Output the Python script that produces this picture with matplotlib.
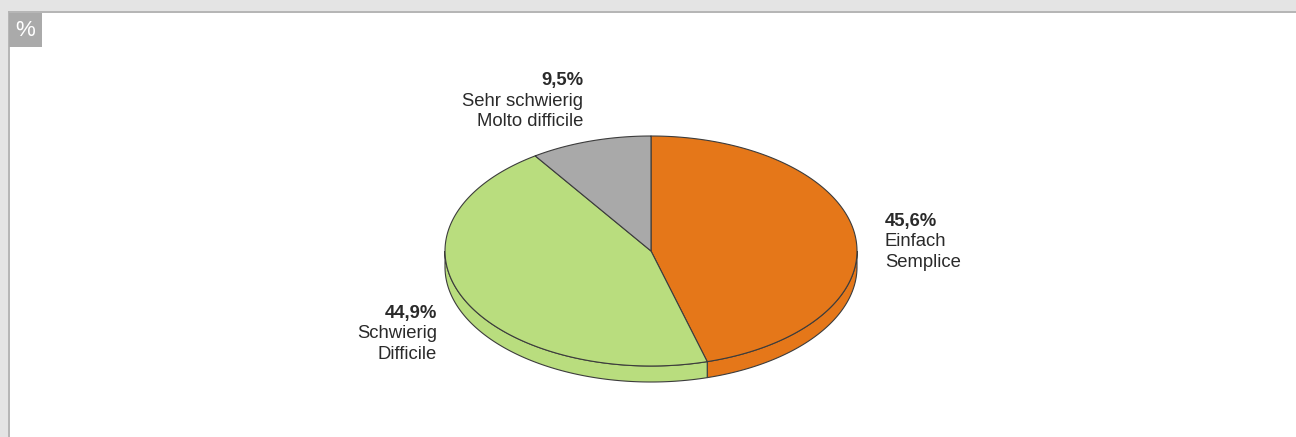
import numpy as np
import matplotlib
matplotlib.use("Agg")
import matplotlib.pyplot as plt
from matplotlib.patches import Polygon, Rectangle

# Werte
shares = [45.6, 44.9, 9.5]
labels_de = ["Einfach", "Schwierig", "Sehr schwierig"]
labels_it = ["Semplice", "Difficile", "Molto difficile"]
colors = ["#e57719", "#b9dd7e", "#a9a9a9"]

plt.rcParams["font.family"] = ["Liberation Sans", "DejaVu Sans"]

W, H = 1296, 437
fig = plt.figure(figsize=(W / 100, H / 100), dpi=100)
ax = fig.add_axes([0, 0, 1, 1])
ax.set_xlim(0, W)
ax.set_ylim(H, 0)
ax.axis("off")

# Rahmen
ax.add_patch(Rectangle((0, 0), W, 11, color="#e4e4e4", lw=0, zorder=0))
ax.add_patch(Rectangle((0, 0), 8, H, color="#e4e4e4", lw=0, zorder=0))
ax.plot([8.5, W], [11.5, 11.5], color="#b4b4b4", lw=1.4, zorder=0.5)
ax.plot([8.5, 8.5], [11.5, H], color="#b4b4b4", lw=1.4, zorder=0.5)
ax.add_patch(Rectangle((9, 12.5), 33, 34.5, color="#aaaaaa", lw=0, zorder=3))
ax.text(25.5, 30, "%", color="white", fontsize=16, ha="center", va="center", zorder=4)

# Ellipse (Pseudo-3D)
cx, cy, rx, ry, depth = 651, 251, 206, 115, 16
edge = "#3c3c3c"


def arc(t0, t1, n=200):
    t = np.radians(np.linspace(t0, t1, n))
    return np.column_stack([cx + rx * np.cos(t), cy - ry * np.sin(t)])


bounds = 90 - 360 * np.concatenate([[0], np.cumsum(shares)]) / 100.0

for i, col in enumerate(colors):
    a, b = bounds[i], bounds[i + 1]  # a > b, im Uhrzeigersinn
    # sichtbare Seitenwand (vorderer Teil der Ellipse)
    for lo, hi in [(-180, 0), (180, 360), (-540, -360)]:
        s0, s1 = max(b, lo), min(a, hi)
        if s1 > s0:
            top = arc(s1, s0)
            bot = top[::-1] + [0, depth]
            ax.add_patch(Polygon(np.vstack([top, bot]), closed=True, facecolor=col,
                                 edgecolor=edge, lw=0.8, zorder=1))
    pts = np.vstack([[cx, cy], arc(a, b)])
    ax.add_patch(Polygon(pts, closed=True, facecolor=col, edgecolor=edge,
                         lw=0.8, zorder=2, joinstyle="round"))

# Beschriftungen
txt = "#2a2a2a"
label_pos = [(885, 226, "left"), (437, 318, "right"), (583, 85, "right")]
for (x, y, ha), v, de, it in zip(label_pos, shares, labels_de, labels_it):
    pct = f"{v:.1f}%".replace(".", ",")
    ax.text(x, y, pct, fontsize=13.3, fontweight="bold", color=txt, ha=ha, va="baseline")
    ax.text(x, y + 20.5, de, fontsize=13.3, color=txt, ha=ha, va="baseline")
    ax.text(x, y + 41, it, fontsize=13.3, color=txt, ha=ha, va="baseline")

fig.savefig("out.png", dpi=100, facecolor="white")
